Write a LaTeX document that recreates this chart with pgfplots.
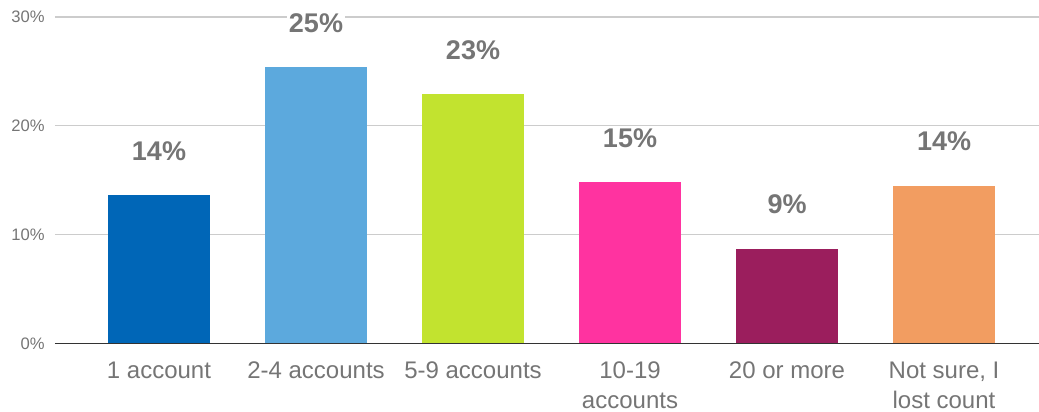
\documentclass[border=0pt]{standalone}
\usepackage{pgfplots}
\pgfplotsset{compat=1.18}
\usepackage{fontspec}
\setmainfont{Liberation Sans}
\definecolor{c1}{RGB}{0,102,183}
\definecolor{c2}{RGB}{92,169,221}
\definecolor{c3}{RGB}{194,227,47}
\definecolor{c4}{RGB}{255,51,160}
\definecolor{c5}{RGB}{155,30,93}
\definecolor{c6}{RGB}{242,157,97}
\definecolor{lbl}{RGB}{117,117,117}
\definecolor{gridc}{RGB}{204,204,204}
\begin{document}
\begin{tikzpicture}
\begin{axis}[
  scale only axis,
  width=492pt, height=163.15pt,
  xmin=-0.6624, xmax=5.605, ymin=0, ymax=30,
  axis line style={draw=none},
  ymajorgrids, grid style={color=gridc, line width=0.55pt},
  major tick length=0pt,
  ytick={0,10,20,30},
  yticklabels={0\%,10\%,20\%,30\%},
  yticklabel style={font=\fontsize{8.3}{10}\selectfont, text=lbl, inner sep=0pt, anchor=east, xshift=-5pt},
  xtick={0,1,2,3,4,5},
  xticklabels={1 account, 2-4 accounts, 5-9 accounts, {10-19\\accounts}, 20 or more, {Not sure, I\\lost count}},
  xticklabel style={font=\fontsize{12}{15}\selectfont, text=lbl, align=center, inner sep=0pt, anchor=north, yshift=-9.2pt},
  ybar, bar width=51pt, bar shift=0pt,
  point meta=explicit symbolic,
  nodes near coords,
  every node near coord/.append style={font=\bfseries\fontsize{13.5}{15}\selectfont, text=lbl, anchor=center, yshift=22pt, fill=white, inner sep=1pt},
]
\draw[black!80, line width=0.65pt] (axis cs:-0.6624,0) -- (axis cs:5.605,0);
\addplot[fill=c1, draw=none] coordinates {(0,13.6) [14\%]};
\addplot[fill=c2, draw=none] coordinates {(1,25.4) [25\%]};
\addplot[fill=c3, draw=none] coordinates {(2,22.9) [23\%]};
\addplot[fill=c4, draw=none] coordinates {(3,14.8) [15\%]};
\addplot[fill=c5, draw=none] coordinates {(4,8.7) [9\%]};
\addplot[fill=c6, draw=none] coordinates {(5,14.5) [14\%]};
\end{axis}
\pgfresetboundingbox
\path ([xshift=-27.5pt,yshift=-34.35pt]current axis.south west) rectangle ([yshift=8.5pt]current axis.north east);
\end{tikzpicture}
\end{document}
